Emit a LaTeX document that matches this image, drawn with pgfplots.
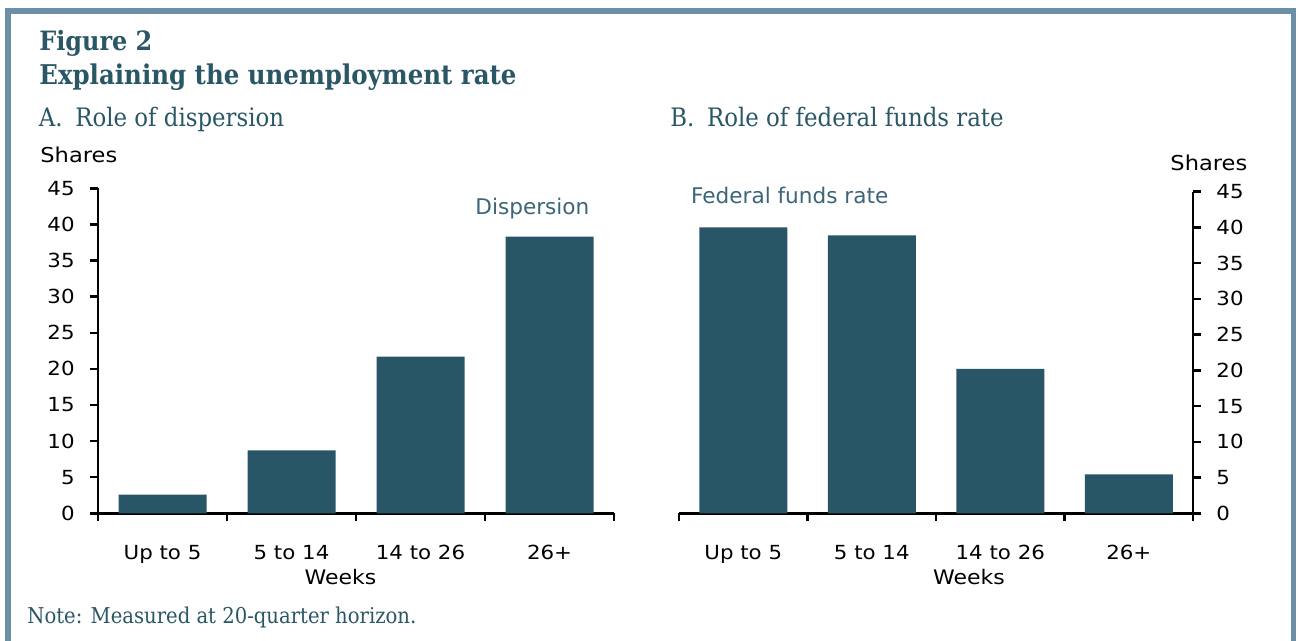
\documentclass[border=0pt]{standalone}
\usepackage{fontspec}
\usepackage{pgfplots}
\usepackage{pgfplotstable}
\pgfplotsset{compat=1.18}
\setmainfont{DejaVu Sans}
\newfontfamily\axfont[FakeStretch=1.1]{DejaVu Sans}
\newfontfamily\annfont{DejaVu Sans}
\newfontfamily\serifc{DejaVu Serif Condensed}
\definecolor{barcol}{HTML}{285666}
\definecolor{titlecol}{HTML}{2A5766}
\definecolor{anncol}{HTML}{3A6677}
\definecolor{bordercol}{HTML}{6B8FA6}

\pgfplotstableread{
x v
0 2.6
1 8.7
2 21.7
3 38.3
}\dispersion
\pgfplotstableread{
x v
0 40.0
1 38.9
2 20.2
3 5.45
}\fedfunds

\pgfplotsset{
  shareaxis/.style={
    scale only axis, ybar, bar width=44bp,
    xmin=-0.5, xmax=3.5, ymin=0, ymax=45,
    axis x line*=bottom,
    axis line style={line width=1.25bp, black},
    tick style={black, line width=1.25bp},
    major tick length=3.8bp, tick align=outside,
    ytick={0,5,...,45},
    xtick={-0.5,0.5,1.5,2.5,3.5}, xticklabels={},
    extra x ticks={0,1,2,3},
    extra x tick labels={Up to 5,5 to 14,14 to 26,26+},
    extra x tick style={major tick length=0pt,
      xticklabel style={anchor=base, inner sep=0pt, yshift=-23bp}},
    tick label style={font=\axfont\fontsize{9.7bp}{11bp}\selectfont},
    /pgf/number format/assume math mode=true,
    label style={font=\axfont\fontsize{10bp}{12bp}\selectfont},
  }
}

\begin{document}
\begin{tikzpicture}
\begin{scope}[x=0.5bp,y=-0.5bp]
  \path[use as bounding box] (0,0) rectangle (1299,641);
  \draw[bordercol, line width=2.75bp, line join=miter]
    (7.85,645) -- (7.85,11) -- (1293.5,11) -- (1293.5,645);
  \node[anchor=base west, inner sep=0pt, text=titlecol,
        font=\serifc\bfseries\fontsize{13.3bp}{15bp}\selectfont] at (39,51) {Figure 2};
  \node[anchor=base west, inner sep=0pt, text=titlecol,
        font=\serifc\bfseries\fontsize{13.6bp}{15bp}\selectfont] at (39,85) {Explaining the unemployment rate};
  \node[anchor=base west, inner sep=0pt, text=titlecol,
        font=\serifc\fontsize{12.7bp}{14bp}\selectfont] at (38.5,126.7) {A.\hspace{0.5em}Role of dispersion};
  \node[anchor=base west, inner sep=0pt, text=titlecol,
        font=\serifc\fontsize{12.7bp}{14bp}\selectfont] at (670,126.7) {B.\hspace{0.5em}Role of federal funds rate};
  \node[anchor=base west, inner sep=0pt, text=anncol,
        font=\annfont\fontsize{10.8bp}{13bp}\selectfont] at (475,214) {Dispersion};
  \node[anchor=base west, inner sep=0pt, text=anncol,
        font=\annfont\fontsize{10.8bp}{13bp}\selectfont] at (690.7,203.3) {Federal funds rate};
  \node[anchor=base west, inner sep=0pt, text=titlecol,
        font=\serifc\fontsize{10.9bp}{13bp}\selectfont] at (27,623) {Note: Measured at 20-quarter horizon.};
\end{scope}

\begin{axis}[shareaxis,
  at={(49bp,-256.65bp)}, anchor=south west,
  width=258bp, height=162.5bp,
  axis y line*=left,
  yticklabel style={anchor=east, inner sep=0pt, xshift=-7.7bp},
  xlabel={Weeks},
  xlabel style={at={(axis description cs:0.47,0)}, anchor=base, inner sep=0pt, yshift=-35.35bp},
  ylabel={Shares},
  ylabel style={rotate=-90, at={(axis description cs:0,1)}, anchor=base west, inner sep=0pt, xshift=-29bp, yshift=12.9bp, font=\axfont\fontsize{10.25bp}{12bp}\selectfont},
]
\addplot[fill=barcol, draw=none] table[x=x, y=v] {\dispersion};
\end{axis}

\begin{axis}[shareaxis,
  at={(339.5bp,-256.65bp)}, anchor=south west,
  width=257bp, height=160.8bp,
  axis y line*=right,
  yticklabel style={anchor=west, inner sep=0pt, xshift=7.7bp},
  xlabel={Weeks},
  xlabel style={at={(axis description cs:0.564,0)}, anchor=base, inner sep=0pt, yshift=-35.35bp},
  ylabel={Shares},
  ylabel style={rotate=-90, at={(axis description cs:1,1)}, anchor=base west, inner sep=0pt, xshift=-11.5bp, yshift=10.85bp, font=\axfont\fontsize{10.25bp}{12bp}\selectfont},
]
\addplot[fill=barcol, draw=none] table[x=x, y=v] {\fedfunds};
\end{axis}
\end{tikzpicture}
\end{document}
